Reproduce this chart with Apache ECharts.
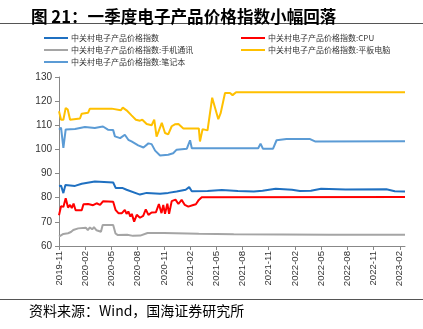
<!DOCTYPE html>
<html>
<head>
<meta charset="utf-8">
<script src="https://cdn.jsdelivr.net/npm/echarts@6/dist/echarts.min.js"></script>
<style>html,body{margin:0;padding:0;background:#fff}#c{width:423px;height:329px}</style>
</head>
<body>
<div id="c"></div>
<script>
var seriesNames = ["中关村电子产品价格指数","中关村电子产品价格指数:CPU","中关村电子产品价格指数:手机通讯","中关村电子产品价格指数:平板电脑","中关村电子产品价格指数:笔记本"];
var xTickLabels = ["2019-11","2020-02","2020-05","2020-08","2020-11","2021-02","2021-05","2021-08","2021-11","2022-02","2022-05","2022-08","2022-11","2023-02"];
var yTicks = [60,70,80,90,100,110,120,130];

var indexDates = ["2019-11-01","2019-11-08","2019-11-16","2019-11-23","2019-12-26","2020-01-19","2020-03-04","2020-05-07","2020-05-16","2020-06-10","2020-06-23","2020-08-09","2020-09-02","2020-10-18","2020-11-16","2020-12-15","2021-01-16","2021-01-28","2021-02-07","2021-04-01","2021-05-20","2021-07-15","2021-09-10","2021-10-10","2021-11-25","2022-01-21","2022-02-18","2022-03-26","2022-05-01","2022-07-25","2022-12-15","2023-01-14","2023-02-19"];
var indexValues = [84.9,85.0,81.9,85.3,84.9,85.8,86.7,86.3,84.0,84.0,83.3,81.3,82.0,81.6,82.0,82.6,83.3,84.4,82.7,82.8,83.2,82.8,82.6,82.9,83.7,83.3,82.8,82.9,83.7,83.4,83.5,82.7,82.6];

var cpuDates = ["2019-11-01","2019-11-08","2019-11-16","2019-11-24","2019-12-02","2019-12-09","2019-12-15","2019-12-21","2019-12-28","2020-01-19","2020-01-25","2020-02-11","2020-02-28","2020-03-10","2020-03-22","2020-04-02","2020-05-07","2020-05-15","2020-05-25","2020-06-07","2020-06-17","2020-06-23","2020-06-29","2020-07-06","2020-07-11","2020-07-19","2020-07-28","2020-08-03","2020-08-09","2020-08-20","2020-08-29","2020-09-08","2020-09-19","2020-10-04","2020-10-14","2020-10-23","2020-10-29","2020-11-05","2020-11-13","2020-11-19","2020-11-28","2020-12-04","2020-12-11","2020-12-21","2021-01-02","2021-01-13","2021-01-25","2021-02-12","2021-02-21","2021-03-01","2021-03-11","2023-02-19"];
var cpuValues = [72.7,76.5,76.2,79.8,75.9,77.0,75.7,77.6,74.8,74.8,77.3,77.4,76.9,77.7,77.0,78.5,78.3,75.0,73.6,73.6,75.0,73.3,74.3,72.2,73.3,70.1,72.9,73.4,71.7,72.5,75.2,72.9,73.9,74.0,77.4,73.6,77.0,73.3,77.5,73.3,78.6,77.8,79.2,77.4,79.1,77.0,76.3,77.0,77.3,79.1,80.2,80.3];

var mobileDates = ["2019-11-01","2019-11-16","2019-12-02","2019-12-12","2019-12-20","2020-01-07","2020-02-03","2020-02-10","2020-02-17","2020-02-25","2020-03-01","2020-03-10","2020-03-14","2020-03-25","2020-04-01","2020-05-07","2020-05-15","2020-05-22","2020-06-25","2020-07-15","2020-08-10","2020-09-05","2020-11-01","2021-03-01","2021-07-01","2022-06-01","2023-02-19"];
var mobileValues = [63.9,65.0,65.3,65.8,66.6,67.3,67.6,66.6,67.7,66.9,67.8,66.5,65.9,65.9,68.7,68.7,65.2,64.6,64.7,64.2,64.3,65.4,65.4,65.1,64.9,64.7,64.7];

var tabletDates = ["2019-11-01","2019-11-08","2019-11-16","2019-11-24","2019-12-01","2019-12-09","2020-01-13","2020-01-19","2020-02-11","2020-02-17","2020-05-02","2020-05-06","2020-06-03","2020-06-10","2020-06-23","2020-07-10","2020-07-25","2020-08-09","2020-08-17","2020-09-02","2020-09-19","2020-09-28","2020-10-06","2020-10-12","2020-10-24","2020-11-05","2020-11-16","2020-11-22","2020-11-28","2020-12-09","2020-12-21","2021-01-08","2021-03-01","2021-03-05","2021-03-14","2021-04-01","2021-04-17","2021-05-08","2021-05-16","2021-05-22","2021-06-01","2021-06-18","2021-06-27","2021-07-09","2023-02-19"];
var tabletValues = [115.8,112.3,112.3,117.2,116.5,112.3,112.8,114.8,115.2,116.9,116.9,116.2,116.2,117.3,116.2,114.1,112.3,111.9,112.3,110.5,110.0,112.3,105.3,107.2,111.0,106.8,106.2,105.4,109.6,110.4,110.5,108.7,108.7,103.3,108.4,107.9,121.4,112.5,115.0,115.1,123.4,123.4,122.5,123.7,123.7];

var notebookDates = ["2019-11-01","2019-11-08","2019-11-16","2019-11-24","2019-12-26","2020-01-30","2020-03-04","2020-03-22","2020-04-02","2020-04-19","2020-05-07","2020-05-13","2020-05-31","2020-06-06","2020-06-17","2020-06-29","2020-07-10","2020-08-03","2020-08-21","2020-09-08","2020-09-19","2020-10-01","2020-10-18","2020-11-16","2020-12-03","2020-12-15","2021-01-20","2021-01-31","2021-02-07","2021-09-25","2021-10-03","2021-10-11","2021-11-16","2021-11-28","2022-01-02","2022-03-23","2022-04-10","2023-02-19"];
var notebookValues = [108.2,109.0,100.6,108.3,108.5,109.3,108.9,109.3,109.5,108.2,108.0,105.4,104.7,104.4,106.1,104.0,103.3,101.7,100.8,102.5,102.2,99.5,97.5,97.8,98.4,99.9,100.3,103.8,100.5,100.5,102.4,100.3,100.3,103.8,104.3,104.3,103.3,103.4];

var colors = ["#1f70c1","#ff0000","#a5a5a5","#ffc000","#5b9bd5"];

function toM(d){
  var p = d.split("-");
  var y = +p[0], m = +p[1], day = p.length > 2 ? +p[2] : 1;
  return (y - 2019) * 12 + (m - 11) + (day - 1) / 30;
}
function mToLabel(v){
  var total = Math.round(v) + 10;
  var y = 2019 + Math.floor(total / 12);
  var mo = total % 12 + 1;
  return y + "-" + (mo < 10 ? "0" + mo : mo);
}
function pairs(ds, vs){ return ds.map(function(d,i){ return [toM(d), vs[i]]; }); }

var allData = [
  pairs(indexDates, indexValues),
  pairs(cpuDates, cpuValues),
  pairs(mobileDates, mobileValues),
  pairs(tabletDates, tabletValues),
  pairs(notebookDates, notebookValues)
];
var tickPos = xTickLabels.map(toM);
var xMax = toM(indexDates[indexDates.length - 1]);

var chart = echarts.init(document.getElementById("c"), null, {renderer: "canvas"});
var font = "Liberation Sans, Arial, sans-serif";
var cjk = "Noto Sans CJK SC, sans-serif";
function legendFor(left, idxs){
  return {
    left: left, top: 33, padding: 0,
    orient: "vertical", itemWidth: 24, itemHeight: 2, itemGap: 2,
    icon: "rect",
    data: idxs.map(function(i){ return {name: seriesNames[i], icon: "rect"}; }),
    textStyle: {fontSize: 8, lineHeight: 10, color: "#333", fontFamily: cjk, padding: [0,0,0,-2]},
    selectedMode: false
  };
}
chart.setOption({
  animation: false,
  title: {
    text: "图 21：一季度电子产品价格指数小幅回落",
    left: 26, top: 3,
    textStyle: {fontSize: 16.6, fontWeight: "bold", color: "#000", fontFamily: cjk}
  },
  graphic: [
    {type: "line", shape: {x1: 0, y1: 23.5, x2: 423, y2: 23.5}, style: {stroke: "#555", lineWidth: 1}},
    {type: "line", shape: {x1: 0, y1: 299.5, x2: 423, y2: 299.5}, style: {stroke: "#555", lineWidth: 1}},
    {type: "text", left: 29, top: 304, style: {text: "资料来源：Wind，国海证券研究所", fontSize: 14, fill: "#000", fontFamily: cjk}}
  ],
  legend: [legendFor(44, [0,2,4]), legendFor(241, [1,3])],
  grid: {left: 59, right: 18, top: 77, bottom: 83},
  xAxis: {
    type: "value", min: 0, max: xMax,
    axisLine: {lineStyle: {color: "#888", width: 1}},
    axisTick: {show: true, length: 4, inside: false, customValues: tickPos, lineStyle: {color: "#888"}},
    axisLabel: {customValues: tickPos, rotate: 90, margin: 5, fontSize: 9.6, color: "#333", fontFamily: font,
      formatter: function(v){ return mToLabel(v); }},
    splitLine: {show: false}
  },
  yAxis: {
    type: "value", min: yTicks[0], max: yTicks[yTicks.length - 1], interval: 10,
    axisLine: {show: true, lineStyle: {color: "#888", width: 1}},
    axisTick: {show: true, length: 4, lineStyle: {color: "#888"}},
    axisLabel: {fontSize: 10, color: "#333", fontFamily: font, margin: 7},
    splitLine: {show: false}
  },
  series: allData.map(function(d, i){
    return {
      name: seriesNames[i], type: "line", data: d, symbol: "none", showSymbol: false,
      lineStyle: {width: 2, color: colors[i]}, itemStyle: {color: colors[i]}
    };
  })
});
</script>
</body>
</html>
